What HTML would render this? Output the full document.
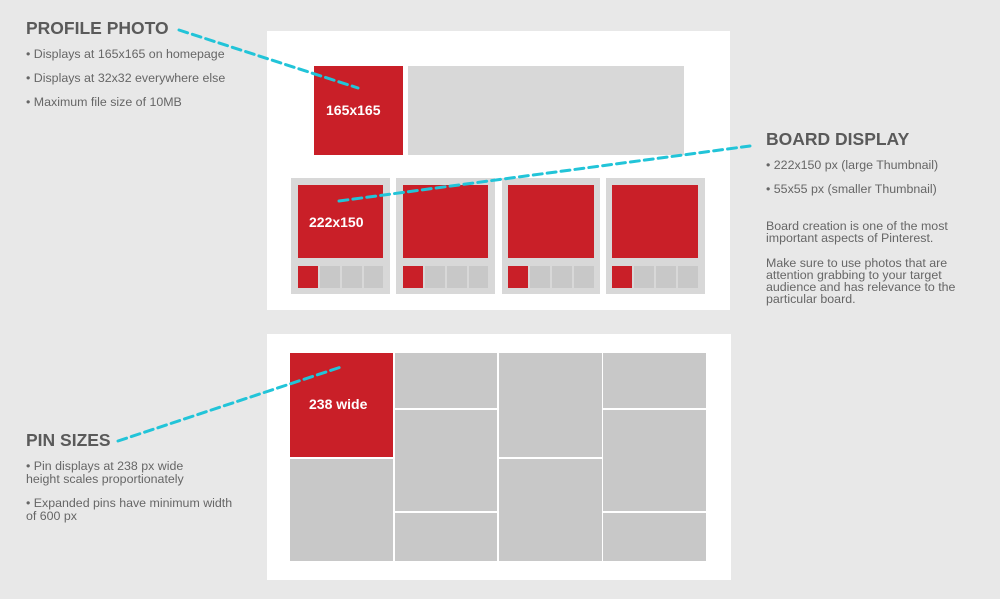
<!DOCTYPE html>
<html><head><meta charset="utf-8"><style>
body{margin:0;width:1000px;height:599px;background:#e8e8e8;position:relative;overflow:hidden;font-family:"Liberation Sans",sans-serif;}
div{position:absolute;box-sizing:border-box;}
.r{background:#c91f28;}
.g{background:#d8d8d8;}
.g2{background:#c8c8c8;}
.t{color:#5a5a5a;font-weight:bold;font-size:17.5px;white-space:nowrap;}
.s{color:#666;font-size:12.4px;white-space:nowrap;line-height:13px;}
.w{color:#fff;font-weight:bold;font-size:14px;white-space:nowrap;}
</style></head><body>
<div style="left:267px;top:31px;width:463px;height:279px;background:#fff"></div>
<div class="r" style="left:314px;top:66px;width:89px;height:89px"></div>
<div class="g" style="left:408px;top:66px;width:276px;height:89px"></div>
<div class="w" style="left:326px;top:102px">165x165</div>

<div class="g" style="left:291px;top:178px;width:99px;height:116px"></div>
<div class="g" style="left:396px;top:178px;width:99px;height:116px"></div>
<div class="g" style="left:502px;top:178px;width:98px;height:116px"></div>
<div class="g" style="left:606px;top:178px;width:99px;height:116px"></div>
<div class="r" style="left:298px;top:185px;width:85px;height:73px"></div>
<div class="r" style="left:403px;top:185px;width:85px;height:73px"></div>
<div class="r" style="left:508px;top:185px;width:86px;height:73px"></div>
<div class="r" style="left:612px;top:185px;width:86px;height:73px"></div>
<div class="w" style="left:309px;top:214px">222x150</div>

<div class="r" style="left:298px;top:266px;width:20px;height:22px"></div>
<div class="g2" style="left:320px;top:266px;width:20px;height:22px"></div>
<div class="g2" style="left:342px;top:266px;width:20px;height:22px"></div>
<div class="g2" style="left:364px;top:266px;width:19px;height:22px"></div>
<div class="r" style="left:403px;top:266px;width:20px;height:22px"></div>
<div class="g2" style="left:425px;top:266px;width:20px;height:22px"></div>
<div class="g2" style="left:447px;top:266px;width:20px;height:22px"></div>
<div class="g2" style="left:469px;top:266px;width:19px;height:22px"></div>
<div class="r" style="left:508px;top:266px;width:20px;height:22px"></div>
<div class="g2" style="left:530px;top:266px;width:20px;height:22px"></div>
<div class="g2" style="left:552px;top:266px;width:20px;height:22px"></div>
<div class="g2" style="left:574px;top:266px;width:20px;height:22px"></div>
<div class="r" style="left:612px;top:266px;width:20px;height:22px"></div>
<div class="g2" style="left:634px;top:266px;width:20px;height:22px"></div>
<div class="g2" style="left:656px;top:266px;width:20px;height:22px"></div>
<div class="g2" style="left:678px;top:266px;width:20px;height:22px"></div>

<div style="left:267px;top:334px;width:464px;height:246px;background:#fff"></div>
<div class="r" style="left:290px;top:353px;width:103px;height:104px"></div>
<div class="g2" style="left:290px;top:459px;width:103px;height:102px"></div>
<div class="g2" style="left:395px;top:353px;width:102px;height:55px"></div>
<div class="g2" style="left:395px;top:410px;width:102px;height:101px"></div>
<div class="g2" style="left:395px;top:513px;width:102px;height:48px"></div>
<div class="g2" style="left:499px;top:353px;width:103px;height:104px"></div>
<div class="g2" style="left:499px;top:459px;width:103px;height:102px"></div>
<div class="g2" style="left:603px;top:353px;width:103px;height:55px"></div>
<div class="g2" style="left:603px;top:410px;width:103px;height:101px"></div>
<div class="g2" style="left:603px;top:513px;width:103px;height:48px"></div>
<div class="w" style="left:309px;top:396px">238 wide</div>

<div class="t" style="left:26px;top:18px">PROFILE PHOTO</div>
<div class="s" style="left:26px;top:48px">• Displays at 165x165 on homepage</div>
<div class="s" style="left:26px;top:72px">• Displays at 32x32 everywhere else</div>
<div class="s" style="left:26px;top:96px">• Maximum file size of 10MB</div>

<div class="t" style="left:766px;top:129px">BOARD DISPLAY</div>
<div class="s" style="left:766px;top:159px">• 222x150 px (large Thumbnail)</div>
<div class="s" style="left:766px;top:183px">• 55x55 px (smaller Thumbnail)</div>
<div class="s" style="left:766px;top:220px;line-height:12px">Board creation is one of the most<br>important aspects of Pinterest.</div>
<div class="s" style="left:766px;top:257px;line-height:12px">Make sure to use photos that are<br>attention grabbing to your target<br>audience and has relevance to the<br>particular board.</div>

<div class="t" style="left:26px;top:430px">PIN SIZES</div>
<div class="s" style="left:26px;top:460px">• Pin displays at 238 px wide<br>height scales proportionately</div>
<div class="s" style="left:26px;top:497px">• Expanded pins have minimum width<br>of 600 px</div>

<svg width="1000" height="599" style="position:absolute;left:0;top:0">
<g stroke="#22c4d8" stroke-width="3" stroke-dasharray="9,5" fill="none" stroke-linecap="round">
<line x1="179" y1="30" x2="358" y2="88"/>
<line x1="339" y1="201" x2="750" y2="146"/>
<line x1="118" y1="441" x2="341" y2="367"/>
</g></svg>
</body></html>
